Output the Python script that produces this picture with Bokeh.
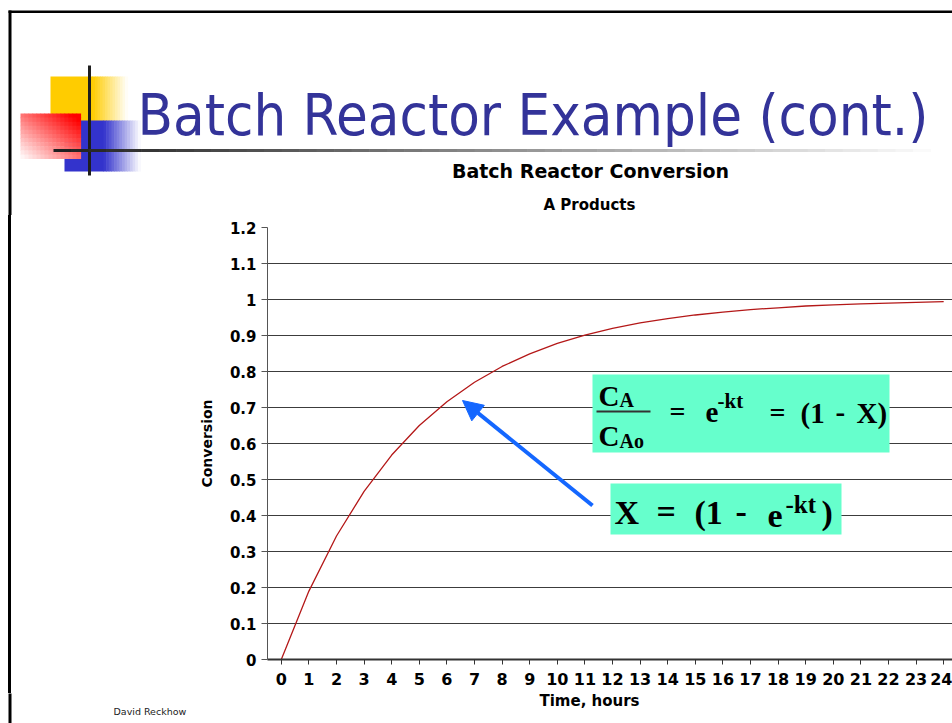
from bokeh.plotting import figure
from bokeh.layouts import column, row
from bokeh.models import (Label, BoxAnnotation, Arrow, NormalHead, Range1d,
                          FixedTicker, NumeralTickFormatter, Spacer)
from bokeh.embed import file_html
from bokeh.resources import INLINE

# ---------------- data ----------------
hours = list(range(25))
conversion = [0.0, 0.19, 0.343, 0.467, 0.568, 0.65, 0.716, 0.770, 0.814,
              0.849, 0.878, 0.901, 0.920, 0.935, 0.947, 0.957, 0.965, 0.972,
              0.977, 0.982, 0.985, 0.988, 0.990, 0.992, 0.994]
y_ticks = [0, 0.1, 0.2, 0.3, 0.4, 0.5, 0.6, 0.7, 0.8, 0.9, 1.0, 1.1, 1.2]
x_ticks = hours

slide_title = "Batch Reactor Example (cont.)"
chart_title = "Batch Reactor Conversion"
chart_subtitle = "A Products"
x_label = "Time, hours"
y_label = "Conversion"
footer = "David Reckhow"

# ---------------- layout (page pixels) ----------------
PAGE_W, PAGE_H = 952, 723
TOP_H = 215            # slide header strip
LEFT_W = 190           # left margin strip of the slide
BOT_Y = 693            # bottom strip (x title, footer) starts here
BORDER_X, BORDER_W = 8, 3
FRAME_L, FRAME_T, FRAME_B = 267, 227, 659
PX_X, PX_Y = 27.6, 360.0
x_start = -0.5
x_end = x_start + (PAGE_W - FRAME_L) / PX_X

WHITE = (255, 255, 255)
# offset from the vertical middle of a text box to its baseline, in em
MID = {"DejaVu Sans": 0.346, "DejaVu Sans Condensed": 0.346,
       "Liberation Serif": 0.3375}


def blank(w, h, x0, x1, y0, y1):
    f = figure(width=w, height=h, x_range=Range1d(x0, x1),
               y_range=Range1d(y1, y0), output_backend="svg",
               toolbar_location=None, min_border=0,
               x_axis_location=None, y_axis_location=None)
    f.grid.visible = False
    f.outline_line_color = None
    f.background_fill_color = "white"
    f.border_fill_color = "white"
    return f


def mix(c0, c1, t):
    return "#%02x%02x%02x" % tuple(int(round(a + (b - a) * t)) for a, b in zip(c0, c1))


def put(fig, x, y_base, text, font, size, style="normal", color="black",
        align="left"):
    fig.add_layout(Label(x=x, y=y_base - MID[font] * size, text=text,
                         text_font=font, text_font_size="%gpx" % size,
                         text_font_style=style, text_color=color,
                         text_align=align, text_baseline="middle"))


# ================= header strip =================
top = blank(PAGE_W, TOP_H, 0, PAGE_W, 0, TOP_H)
rl, rr, rt, rb, rc = [], [], [], [], []


def rect(x0, x1, y0, y1, color):
    rl.append(x0); rr.append(x1); rt.append(y0); rb.append(y1); rc.append(color)


# slide border
rect(BORDER_X, PAGE_W + 2, 10, 12.5, "#000000")
rect(BORDER_X, BORDER_X + BORDER_W, 10, TOP_H + 1, "#000000")

# logo
YEL = (255, 204, 0)
BLU = (51, 51, 204)
RED = (255, 0, 0)
rect(50, 92.5, 76, 121, mix(YEL, YEL, 0))
n = 14
for i in range(n):
    a = 92 + (127 - 92) * i / n
    b = 92 + (127 - 92) * (i + 1) / n
    rect(a, b + 0.6, 76, 121, mix(YEL, WHITE, (i + 0.5) / n))
rect(64, 103.5, 120, 171, mix(BLU, BLU, 0))
for i in range(n):
    a = 103 + (140 - 103) * i / n
    b = 103 + (140 - 103) * (i + 1) / n
    rect(a, b + 0.6, 120, 171, mix(BLU, WHITE, (i + 0.5) / n))
nx, ny = 15, 11
for i in range(nx):
    for j in range(ny):
        x0 = 20 + 60 * i / nx
        x1 = 20 + 60 * (i + 1) / nx
        y0 = 113 + 45 * j / ny
        y1 = 113 + 45 * (j + 1) / ny
        t = ((i + 0.5) / nx + 1 - (j + 0.5) / ny) / 2
        rect(x0, x1 + 0.6, y0, y1 + 0.6, mix(WHITE, RED, min(1, t * 1.1)))
rect(87.5, 90.5, 65, 175, "#1e1e1e")
m = 50
for i in range(m):
    a = 53 + (930 - 53) * i / m
    b = 53 + (930 - 53) * (i + 1) / m
    rect(a, b + 0.6, 148.5, 151.5, mix((30, 30, 30), (252, 252, 252), (i + 0.5) / m))
top.quad(left=rl, right=rr, top=rt, bottom=rb, fill_color=rc, line_color=None)

put(top, 137, 134.5, slide_title, "DejaVu Sans Condensed", 57.5, color="#333399")
put(top, 590, 177.5, chart_title, "DejaVu Sans", 19, "bold", align="center")
put(top, 589, 210, chart_subtitle, "DejaVu Sans", 15, "bold", align="center")

# ================= left strip (slide border only) =================
MID_H = BOT_Y - TOP_H
left_gap = Spacer(width=BORDER_X, height=MID_H)
left_line = Spacer(width=BORDER_W, height=MID_H,
                   styles={"background-color": "#000000"})
left_rest = Spacer(width=LEFT_W - BORDER_X - BORDER_W, height=MID_H)

# ================= chart =================
CH_W = PAGE_W - LEFT_W
p = figure(width=CH_W, height=MID_H, x_range=Range1d(x_start, x_end),
           y_range=Range1d(0, 1.2), output_backend="svg",
           toolbar_location=None, min_border_left=FRAME_L - LEFT_W,
           min_border_right=0, min_border_top=FRAME_T - TOP_H,
           min_border_bottom=BOT_Y - FRAME_B)
p.outline_line_color = None
p.background_fill_color = "white"
p.border_fill_color = "white"

p.xgrid.visible = False
p.ygrid.ticker = FixedTicker(ticks=y_ticks)
p.ygrid.grid_line_color = "#3c3c3c"
p.ygrid.grid_line_width = 1

ya = p.yaxis[0]
ya.ticker = FixedTicker(ticks=y_ticks)
ya.formatter = NumeralTickFormatter(format="0.[0]")
ya.axis_line_color = "#555555"
ya.major_tick_line_color = "#555555"
ya.major_tick_out = 6
ya.major_tick_in = 0
ya.minor_tick_line_color = None
ya.major_label_text_font = "DejaVu Sans"
ya.major_label_text_font_style = "bold"
ya.major_label_text_font_size = "15px"
ya.major_label_text_color = "black"
ya.major_label_standoff = 5
ya.axis_label = y_label
ya.axis_label_text_font = "DejaVu Sans"
ya.axis_label_text_font_style = "bold"
ya.axis_label_text_font_size = "14px"
ya.axis_label_text_color = "black"
ya.axis_label_standoff = 12

xa = p.xaxis[0]
xa.ticker = FixedTicker(ticks=x_ticks)
xa.axis_line_color = "#333333"
xa.axis_line_width = 2
xa.major_tick_line_color = "#333333"
xa.major_tick_out = 5
xa.major_tick_in = 0
xa.minor_tick_line_color = None
xa.major_label_text_font = "DejaVu Sans"
xa.major_label_text_font_style = "bold"
xa.major_label_text_font_size = "16px"
xa.major_label_text_color = "black"
xa.major_label_standoff = 8

p.line(hours, conversion, line_color="#B41818", line_width=1.3)


def dx(X):
    return x_start + (X - FRAME_L) / PX_X


def dy(Y):
    return (FRAME_B - Y) / PX_Y


def box(x0, x1, y0, y1, color):
    p.add_layout(BoxAnnotation(left=dx(x0), right=dx(x1), top=dy(y0),
                               bottom=dy(y1), fill_color=color, fill_alpha=1.0,
                               line_color=None, line_alpha=0))


def lab(X, Y, text, size):
    off = MID["Liberation Serif"] * size
    p.add_layout(Label(x=dx(X), y=dy(Y - off), text=text,
                       text_font="Liberation Serif",
                       text_font_size="%gpx" % size, text_font_style="bold",
                       text_color="black", text_baseline="middle"))


AQUA = "#66FFCC"
box(592, 889, 374, 452, AQUA)
lab(598, 405, "C", 29)
lab(619, 406, "A", 20)
box(596, 650, 410, 412, "#333333")
lab(598, 445, "C", 29)
lab(619, 447, "Ao", 20)
lab(669, 420, "=", 28)
lab(705, 422, "e", 29)
lab(717, 408, "-kt", 21)
lab(769, 421, "=", 28)
lab(800, 422, "(1", 29)
lab(835, 422, "-", 29)
lab(856, 422, "X)", 29)

box(610, 841, 483, 534, AQUA)
lab(614, 523, "X", 34)
lab(656, 522, "=", 34)
lab(694, 523, "(1", 34)
lab(735, 523, "-", 34)
lab(767, 527, "e", 34)
lab(785, 512, "-kt", 25)
lab(821, 523, ")", 34)

BLUE_ARROW = "#1467FF"
p.add_layout(Arrow(end=NormalHead(size=20, fill_color=BLUE_ARROW,
                                  line_color=BLUE_ARROW, line_width=1),
                   x_start=dx(592), y_start=dy(505), x_end=dx(462),
                   y_end=dy(400), line_color=BLUE_ARROW, line_width=4))

# ================= bottom strip (x title, footer) =================
bottom = blank(PAGE_W, PAGE_H - BOT_Y, 0, PAGE_W, BOT_Y, PAGE_H)
bottom.quad(left=[BORDER_X], right=[BORDER_X + BORDER_W], top=[BOT_Y - 1],
            bottom=[PAGE_H + 1], fill_color="#000000", line_color=None)
put(bottom, 589, 705.5, x_label, "DejaVu Sans", 15, "bold", align="center")
put(bottom, 113, 714.5, footer, "DejaVu Sans", 9.5, color="#222222")

layout = column(top,
                row(left_gap, left_line, left_rest, p, spacing=0),
                bottom, spacing=0)
open("out.html", "w").write(file_html(layout, INLINE))
